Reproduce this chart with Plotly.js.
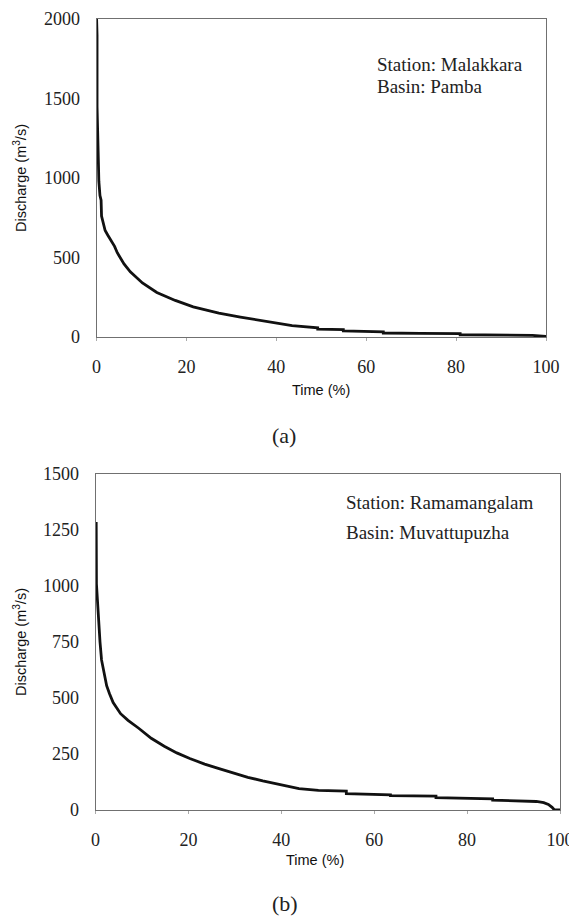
<!DOCTYPE html>
<html>
<head>
<meta charset="utf-8">
<script src="https://cdn.plot.ly/plotly-3.0.1.min.js"></script>
<style>html,body{margin:0;padding:0;background:#fff;overflow:hidden;}</style>
</head>
<body>
<div id="chart" style="width:569px;height:922px;"></div>
<script>
// Panel (a): Station Malakkara, Basin Pamba
const timeA = [0, 0.1, 0.1, 0.2, 0.3, 0.5, 0.75, 1.0, 1.1, 1.5, 1.9, 2.5, 3.1, 4.0, 4.6, 6.1, 7.5, 10.2, 13.4, 17.5, 21.5, 27.2, 32, 35.4, 40, 43.5, 49.2, 49.2, 54.9, 54.9, 63.8, 63.8, 72, 80.9, 80.9, 90, 97, 100];
const dischargeA = [2000, 1900, 1450, 1300, 1050, 980, 890, 860, 760, 720, 670, 640, 610, 570, 530, 460, 410, 340, 280, 230, 190, 150, 125, 110, 90, 72, 58, 50, 46, 38, 32, 25, 23, 21, 14, 12, 10, 3];

// Panel (b): Station Ramamangalam, Basin Muvattupuzha
const timeB = [0, 0.15, 0.2, 0.26, 0.4, 0.6, 0.97, 1.3, 1.8, 2.4, 3.0, 3.8, 5.4, 7.0, 9.3, 12, 14.8, 17.5, 20.3, 23.5, 26.6, 29.7, 32.8, 36, 39.1, 43.8, 48, 54.0, 54.0, 63.5, 63.5, 73.3, 73.3, 85.5, 85.5, 90, 94.9, 96.5, 97.5, 98.3, 98.8, 100];
const dischargeB = [1280, 1280, 1010, 990, 900, 840, 750, 670, 610, 555, 520, 480, 430, 400, 365, 320, 285, 255, 230, 205, 185, 165, 146, 130, 115, 95, 88, 84, 73, 68, 64, 62, 55, 50, 44, 42, 38, 33, 25, 12, 0, 0];

const xTicks = [0, 20, 40, 60, 80, 100];
const yTicksA = [0, 500, 1000, 1500, 2000];
const yTicksB = [0, 250, 500, 750, 1000, 1250, 1500];
const stationA = ["Station: Malakkara", "Basin: Pamba"];
const stationB = ["Station: Ramamangalam", "Basin: Muvattupuzha"];

const serif = {family: "Liberation Serif, Times New Roman, serif", size: 18, color: "#222"};
const note = {family: "Liberation Serif, Times New Roman, serif", size: 19, color: "#222"};
const sans = {family: "Liberation Sans, Arial, sans-serif", size: 14.5, color: "#111"};
const frameColor = "#707070";

const traces = [
  {x: timeA, y: dischargeA, xaxis: "x", yaxis: "y", mode: "lines",
   line: {color: "#111", width: 2.8}, hoverinfo: "skip"},
  {x: timeB, y: dischargeB, xaxis: "x2", yaxis: "y2", mode: "lines",
   line: {color: "#111", width: 2.8}, hoverinfo: "skip"}
];

function xax(domain, anchor) {
  return {domain: domain, anchor: anchor, range: [0, 100], tickvals: xTicks,
    ticktext: xTicks.map(String), showgrid: false, zeroline: false,
    showline: true, mirror: true, linecolor: frameColor, linewidth: 1,
    ticks: "outside", ticklen: 3, tickcolor: "#aaa", ticklabelstandoff: 10,
    ticklabeloverflow: "allow", tickfont: serif, fixedrange: true};
}
function yax(domain, anchor, range, vals) {
  return {domain: domain, anchor: anchor, range: range, tickvals: vals,
    ticktext: vals.map(String), showgrid: false, zeroline: false,
    showline: true, mirror: true, linecolor: frameColor, linewidth: 1,
    ticks: "", ticklabelstandoff: 12, ticklabeloverflow: "allow",
    tickfont: serif, fixedrange: true};
}

const W = 569, H = 922;
const px = v => v / W, py = v => 1 - v / H;

const layout = {
  width: W, height: H, showlegend: false,
  margin: {l: 0, r: 0, t: 0, b: 0},
  paper_bgcolor: "#fff", plot_bgcolor: "#fff",
  xaxis: xax([px(96.6), px(546)], "y"),
  yaxis: yax([py(337), py(19)], "x", [0, 2000], yTicksA),
  xaxis2: xax([px(95.5), px(560)], "y2"),
  yaxis2: yax([py(810), py(474)], "x2", [0, 1500], yTicksB),
  annotations: [
    {xref: "x", yref: "y", x: 62.0, y: 1711, text: stationA[0], showarrow: false, xanchor: "left", yanchor: "middle", font: note},
    {xref: "x", yref: "y", x: 62.0, y: 1573, text: stationA[1], showarrow: false, xanchor: "left", yanchor: "middle", font: note},
    {xref: "x2", yref: "y2", x: 53.5, y: 1375, text: stationB[0], showarrow: false, xanchor: "left", yanchor: "middle", font: note},
    {xref: "x2", yref: "y2", x: 53.5, y: 1240, text: stationB[1], showarrow: false, xanchor: "left", yanchor: "middle", font: note},
    {xref: "paper", yref: "paper", x: px(321), y: py(390), text: "Time (%)", showarrow: false, xanchor: "center", yanchor: "middle", font: sans},
    {xref: "paper", yref: "paper", x: px(315), y: py(860), text: "Time (%)", showarrow: false, xanchor: "center", yanchor: "middle", font: sans},
    {xref: "paper", yref: "paper", x: px(20), y: py(178), text: "Discharge (m<sup>3</sup>/s)", textangle: -90, showarrow: false, xanchor: "center", yanchor: "middle", font: sans},
    {xref: "paper", yref: "paper", x: px(20), y: py(642), text: "Discharge (m<sup>3</sup>/s)", textangle: -90, showarrow: false, xanchor: "center", yanchor: "middle", font: sans},
    {xref: "paper", yref: "paper", x: px(284), y: py(435), text: "(a)", showarrow: false, xanchor: "center", yanchor: "middle", font: {family: serif.family, size: 22, color: "#222"}},
    {xref: "paper", yref: "paper", x: px(285), y: py(903), text: "(b)", showarrow: false, xanchor: "center", yanchor: "middle", font: {family: serif.family, size: 22, color: "#222"}}
  ]
};

Plotly.newPlot("chart", traces, layout, {staticPlot: true, displayModeBar: false});
</script>
</body>
</html>
